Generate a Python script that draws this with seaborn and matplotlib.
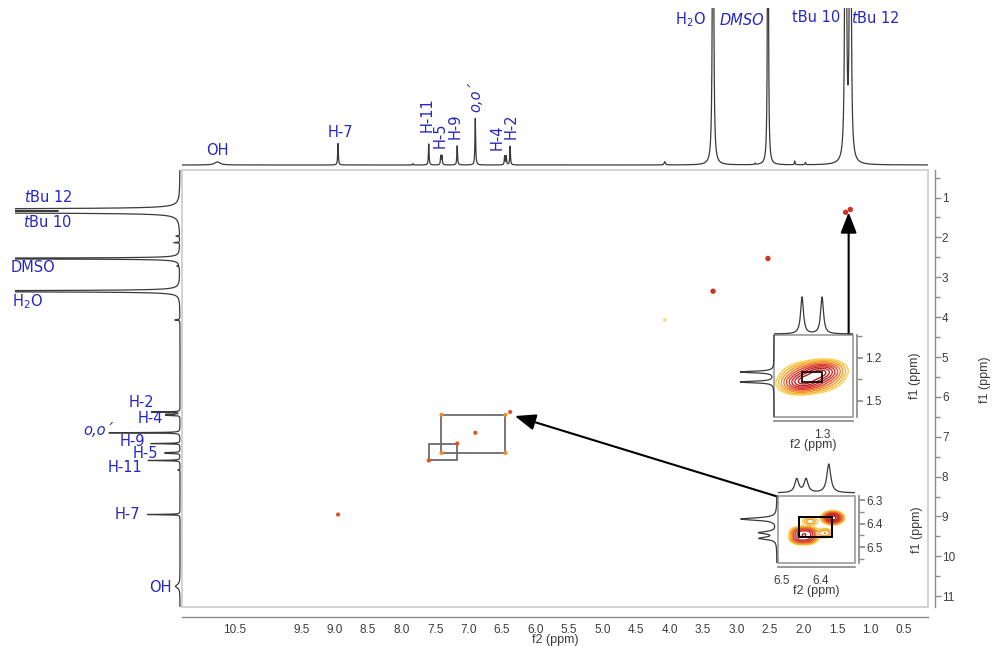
import numpy as np
import pandas as pd
import matplotlib
matplotlib.use("Agg")
import matplotlib.pyplot as plt
from matplotlib.patches import Rectangle
from matplotlib.ticker import MultipleLocator, FixedLocator, FuncFormatter
import seaborn as sns

sns.set_theme(style="white")
plt.rcParams["font.family"] = ["DejaVu Sans"]
plt.rcParams["mathtext.fontset"] = "dejavusans"

# ---------------- 1H peak list (DMSO-d6) used for both projections ----------------
peak_ppm = [10.75, 8.95, 7.83, 7.595, 7.415, 7.398, 7.17, 6.90, 6.462, 6.438, 6.38,
            4.07, 3.35, 2.72, 2.53, 2.13, 1.97, 1.37, 1.30]
peak_height = [0.065, 0.46, 0.03, 0.45, 0.19, 0.19, 0.41, 1.00, 0.19, 0.19, 0.40,
               0.07, 12.0, 0.03, 12.0, 0.08, 0.05, 30.0, 30.0]
peak_hwhm = [0.05, 0.006, 0.006, 0.006, 0.006, 0.006, 0.006, 0.006, 0.006, 0.006, 0.006,
             0.01, 0.008, 0.006, 0.006, 0.006, 0.006, 0.006, 0.006]

# ---------------- COSY cross-peak map (f2, f1) ----------------
map_f2 = [1.37, 1.30, 2.53, 3.35, 4.07, 8.95, 7.595, 7.405, 7.17, 6.90, 6.45, 6.38, 7.405, 6.45]
map_f1 = [1.37, 1.30, 2.53, 3.35, 4.07, 8.95, 7.595, 7.405, 7.17, 6.90, 6.45, 6.38, 6.45, 7.405]
map_level = ["strong", "strong", "strong", "strong", "weak", "medium", "medium", "light",
             "medium", "medium", "light", "medium", "light", "light"]

# coupled spin pairs boxed on the map
pair_hi = [7.405, 7.595]   # H-5, H-11
pair_lo = [6.45, 7.17]     # H-4, H-9

# expansion 1: tert-butyl region
tbu_f2 = [1.37, 1.30, 1.37, 1.30]
tbu_f1 = [1.37, 1.30, 1.30, 1.37]
tbu_amp = [1.0, 1.0, 0.25, 0.25]

# expansion 2: H-2 / H-4 region
ar_f2 = [6.455, 6.433, 6.455, 6.433, 6.37, 6.39, 6.428]
ar_f1 = [6.462, 6.438, 6.438, 6.462, 6.375, 6.44, 6.39]
ar_amp = [1.0, 1.0, 0.9, 0.9, 2.5, 0.35, 0.3]

# ---------------- assignments ----------------
top_text = ["OH", "H-7", "H-11", "H-5", "H-9", "o,o´", "H-4", "H-2",
            "H$_2$O", "DMSO", "tBu 10", r"$\it{t}$Bu $\it{12}$"]
top_x = [10.75, 8.92, 7.62, 7.42, 7.20, 6.89, 6.57, 6.37, 3.69, 2.92, 1.81, 0.93]
top_y = [0.32, 0.69, 1.07, 0.64, 0.84, 1.46, 0.60, 0.84, 3.10, 3.10, 3.15, 3.15]
top_rot = [0, 0, 90, 90, 90, 90, 90, 90, 0, 0, 0, 0]
top_italic = [False, False, False, False, False, True, False, False, False, True, False, False]

left_text = [r"$\it{t}$Bu 12", r"$\it{t}$Bu 10", "DMSO", "H$_2$O", "H-2", "H-4", "o,o´",
             "H-9", "H-5", "H-11", "H-7", "OH"]
left_y = [0.98, 1.61, 2.76, 3.62, 6.13, 6.55, 6.85, 7.13, 7.43, 7.78, 8.96, 10.77]
left_x = [1.86, 1.86, 2.07, 2.15, 0.55, 0.415, 1.15, 0.67, 0.49, 0.77, 0.74, 0.28]
left_italic = [False, False, False, False, False, False, True, False, False, False, False, False]

# contour colours, lowest level first
contour_colors = ["#f7d04a", "#f5b833", "#f39a2a", "#ec7a2b", "#e0512c",
                  "#d3352e", "#c92a2a", "#c02424", "#b51e1e"]


def lorentz_sum(grid, centers, heights, widths):
    g = np.asarray(grid)[:, None]
    c = np.asarray(centers)[None, :]
    h = np.asarray(heights)[None, :]
    w = np.asarray(widths)[None, :]
    return (h * w ** 2 / (w ** 2 + (g - c) ** 2)).sum(axis=1)


def cross_surface(X, Y, c2, c1, amp, su, sv):
    Z = np.zeros_like(X)
    for a, b, A in zip(c2, c1, amp):
        dx, dy = X - a, Y - b
        u = (dx + dy) / np.sqrt(2)
        v = (dx - dy) / np.sqrt(2)
        Z += A * np.exp(-u ** 2 / (2 * su ** 2) - v ** 2 / (2 * sv ** 2))
    return Z


W, H = 995, 646


def box(x0, y0, x1, y1):
    return [x0 / W, 1 - y1 / H, (x1 - x0) / W, (y1 - y0) / H]


LABEL_BLUE = "#2626c4"
AXIS_GRAY = "#8c8c8c"
TICK_TEXT = "#3c3c3c"
LINE = "#3a3a3a"
TICK_FONT = "Liberation Sans"

fig = plt.figure(figsize=(9.95, 6.46), dpi=100)

# ---------------- main 2D map ----------------
ax = fig.add_axes(box(182, 170, 928, 607))
ax.set_xlim(11.28, 0.14)
ax.set_ylim(11.27, 0.31)
ax.grid(False)
ax.patch.set_alpha(0)
for s in ["top", "left"]:
    ax.spines[s].set_visible(False)
ax.spines["bottom"].set_position(("outward", 7))
ax.spines["right"].set_position(("outward", 5))
for s in ["bottom", "right"]:
    ax.spines[s].set_color(AXIS_GRAY)
    ax.spines[s].set_linewidth(1.0)
ax.yaxis.tick_right()
ax.xaxis.set_major_locator(MultipleLocator(0.5))
ax.xaxis.set_minor_locator(MultipleLocator(0.25))
ax.xaxis.set_major_formatter(FuncFormatter(
    lambda v, p: "" if (abs(v - 10) < 1e-6 or abs(v - 11) < 1e-6) else f"{v:.1f}"))
ax.yaxis.set_major_locator(MultipleLocator(1))
ax.yaxis.set_minor_locator(MultipleLocator(0.5))
ax.yaxis.set_major_formatter(FuncFormatter(lambda v, p: f"{v:.0f}"))
ax.tick_params(which="both", direction="out", colors=AXIS_GRAY, labelcolor=TICK_TEXT,
               labelsize=8.5, pad=1)
ax.tick_params(which="major", length=4, width=1)
ax.tick_params(which="minor", length=3.5, width=1)
for t in ax.get_xticklabels() + ax.get_yticklabels():
    t.set_fontfamily(TICK_FONT)
ax.add_patch(Rectangle((0, 0), 1, 1, transform=ax.transAxes, fill=False,
                       ec="#cfcfcf", lw=1.3, clip_on=False, zorder=0))

map_df = pd.DataFrame({"f2": map_f2, "f1": map_f1, "level": map_level})
sns.scatterplot(data=map_df, x="f2", y="f1", hue="level", size="level",
                palette={"strong": "#d2331f", "medium": "#e0541c",
                         "light": "#ef8a2e", "weak": "#f3dc8a"},
                sizes={"strong": 15, "medium": 9, "light": 9, "weak": 7},
                edgecolor="none", legend=False, ax=ax, zorder=4)
for hi, lo in zip(pair_hi, pair_lo):
    ax.add_patch(Rectangle((lo, lo), hi - lo, hi - lo, fill=False,
                           ec="#6c6c6c", lw=1.3, zorder=3))
ax.set_xlabel("")
ax.set_ylabel("")

# arrows from the expansions to their regions
arrow_kw = dict(arrowstyle="-|>,head_length=0.9,head_width=0.35", color="black",
                lw=1.5, mutation_scale=14, shrinkA=0, shrinkB=0)
ax.annotate("", xy=(6.31, 6.48), xytext=(2.37, 8.51), arrowprops=arrow_kw,
            annotation_clip=False, zorder=6)
ax.annotate("", xy=(1.325, 1.37), xytext=(1.325, 4.45), arrowprops=arrow_kw,
            annotation_clip=False, zorder=6)

fig.text(555 / W, 1 - 640.5 / H, "f2 (ppm)", ha="center", va="center",
         fontsize=9, color=TICK_TEXT, family=TICK_FONT)
fig.text(985 / W, 1 - 380 / H, "f1 (ppm)", ha="center", va="center",
         fontsize=9, color=TICK_TEXT, family=TICK_FONT, rotation=90)

# ---------------- 1D projections ----------------
grid = np.arange(0.10, 11.40, 0.0005)
spec = lorentz_sum(grid, peak_ppm, peak_height, peak_hwhm)

ax_top = fig.add_axes(box(182, 8, 928, 168))
sns.lineplot(x=grid, y=spec, ax=ax_top, color=LINE, lw=0.9, estimator=None, sort=False)
ax_top.set_xlim(11.28, 0.14)
ax_top.set_ylim(-0.064, 3.36)
ax_top.axis("off")
for txt, x, y, r, it in zip(top_text, top_x, top_y, top_rot, top_italic):
    ax_top.text(x, y, txt, ha="center", va="center", rotation=r, fontsize=10.5,
                color=LABEL_BLUE, style="italic" if it else "normal")

ax_left = fig.add_axes(box(15, 170, 183, 607))
sns.lineplot(x=spec, y=grid, ax=ax_left, color=LINE, lw=0.9, estimator=None, sort=False)
ax_left.set_xlim(2.324, -0.042)
ax_left.set_ylim(11.27, 0.31)
ax_left.axis("off")
for txt, x, y, it in zip(left_text, left_x, left_y, left_italic):
    ax_left.text(x, y, txt, ha="center", va="center", fontsize=10.5,
                 color=LABEL_BLUE, style="italic" if it else "normal")


# ---------------- expansions ----------------
def style_inset(a, xmaj, xmin, ymaj, ymin):
    a.set_facecolor("white")
    a.grid(False)
    for s in a.spines.values():
        s.set_visible(False)
    for s in ["bottom", "right"]:
        a.spines[s].set_visible(True)
        a.spines[s].set_position(("outward", 3))
        a.spines[s].set_color(AXIS_GRAY)
    a.add_patch(Rectangle((0, 0), 1, 1, transform=a.transAxes, fill=False,
                          ec="#9a9a9a", lw=1.2, clip_on=False, zorder=5))
    a.yaxis.tick_right()
    a.yaxis.set_label_position("right")
    a.xaxis.set_major_locator(FixedLocator(xmaj))
    a.xaxis.set_minor_locator(MultipleLocator(xmin))
    a.yaxis.set_major_locator(FixedLocator(ymaj))
    a.yaxis.set_minor_locator(MultipleLocator(ymin))
    a.xaxis.set_major_formatter(FuncFormatter(lambda v, p: f"{v:.1f}"))
    a.yaxis.set_major_formatter(FuncFormatter(lambda v, p: f"{v:.1f}"))
    a.tick_params(which="both", direction="out", colors=AXIS_GRAY, labelcolor=TICK_TEXT,
                  labelsize=8.5, pad=1.5)
    a.tick_params(which="major", length=4)
    a.tick_params(which="minor", length=3.5)
    for t in a.get_xticklabels() + a.get_yticklabels():
        t.set_fontfamily(TICK_FONT)
    a.set_xlabel("f2 (ppm)", fontsize=9, color=TICK_TEXT, family=TICK_FONT, labelpad=-1)
    a.set_ylabel("f1 (ppm)", fontsize=9, color=TICK_TEXT, family=TICK_FONT, labelpad=20)


def draw_contours(a, X, Y, Z, fracs):
    levels = Z.max() * np.asarray(fracs)
    a.contour(X, Y, Z, levels=levels, colors=contour_colors[:len(levels)], linewidths=1.0)


# tert-butyl expansion
x1lim, y1lim = (1.468, 1.192), (1.615, 1.041)
ax1 = fig.add_axes(box(774, 335, 853, 417))
gx = np.linspace(1.15, 1.50, 300)
gy = np.linspace(1.00, 1.65, 300)
X1, Y1 = np.meshgrid(gx, gy)
Z1 = cross_surface(X1, Y1, tbu_f2, tbu_f1, tbu_amp, su=0.042, sv=0.037)
draw_contours(ax1, X1, Y1, Z1, [0.06, 0.1, 0.16, 0.24, 0.34, 0.46, 0.59, 0.73, 0.87])
ax1.add_patch(Rectangle((tbu_f2[1], tbu_f1[1]), tbu_f2[0] - tbu_f2[1],
                        tbu_f1[0] - tbu_f1[1], fill=False, ec="black", lw=1.2, zorder=4))
ax1.set_xlim(*x1lim)
ax1.set_ylim(*y1lim)
style_inset(ax1, [1.3], 0.025, [1.2, 1.5], 0.15)

g1 = np.linspace(1.0, 1.7, 3000)
s1 = lorentz_sum(g1, peak_ppm, peak_height, peak_hwhm)
ax1t = fig.add_axes(box(774, 290, 853, 335))
sns.lineplot(x=g1, y=s1, ax=ax1t, color=LINE, lw=0.9, estimator=None, sort=False)
ax1t.set_xlim(*x1lim)
ax1t.set_ylim(-0.8, 35.8)
ax1t.axis("off")
ax1l = fig.add_axes(box(740, 335, 776, 417))
sns.lineplot(x=s1, y=g1, ax=ax1l, color=LINE, lw=0.9, estimator=None, sort=False)
ax1l.set_xlim(27.6, -1.6)
ax1l.set_ylim(*y1lim)
ax1l.axis("off")

# H-2 / H-4 expansion
x2lim, y2lim = (6.510, 6.313), (6.567, 6.282)
ax2 = fig.add_axes(box(778, 496, 855, 563))
hx = np.linspace(6.28, 6.55, 300)
hy = np.linspace(6.25, 6.60, 300)
X2, Y2 = np.meshgrid(hx, hy)
Z2 = cross_surface(X2, Y2, ar_f2, ar_f1, ar_amp, su=0.012, sv=0.012)
draw_contours(ax2, X2, Y2, Z2, [0.035, 0.06, 0.09, 0.14, 0.21, 0.31, 0.43, 0.6, 0.8])
ax2.add_patch(Rectangle((6.372, 6.372), 6.457 - 6.372, 6.457 - 6.372,
                        fill=False, ec="black", lw=1.4, zorder=4))
ax2.set_xlim(*x2lim)
ax2.set_ylim(*y2lim)
style_inset(ax2, [6.5, 6.4], 0.05, [6.3, 6.4, 6.5], 0.05)

g2 = np.linspace(6.25, 6.60, 3000)
s2 = lorentz_sum(g2, peak_ppm, peak_height, peak_hwhm)
ax2t = fig.add_axes(box(778, 462, 855, 496))
sns.lineplot(x=g2, y=s2, ax=ax2t, color=LINE, lw=0.9, estimator=None, sort=False)
ax2t.set_xlim(*x2lim)
ax2t.set_ylim(-0.042, 0.43)
ax2t.axis("off")
ax2l = fig.add_axes(box(738, 496, 778, 563))
sns.lineplot(x=s2, y=g2, ax=ax2l, color=LINE, lw=0.9, estimator=None, sort=False)
ax2l.set_xlim(0.433, -0.011)
ax2l.set_ylim(*y2lim)
ax2l.axis("off")

fig.savefig("out.png", dpi=100)
